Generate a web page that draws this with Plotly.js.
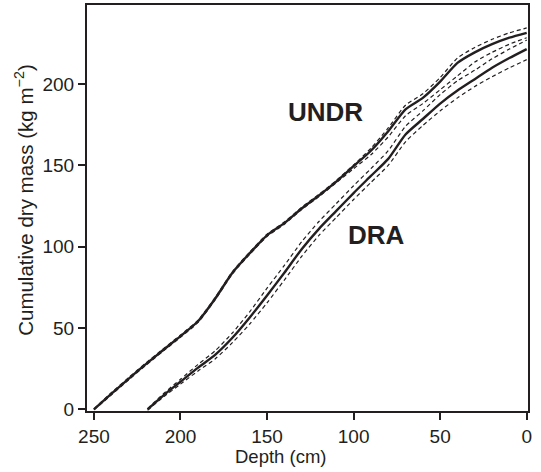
<!DOCTYPE html>
<html>
<head>
<meta charset="utf-8">
<script src="https://cdn.plot.ly/plotly-3.0.1.min.js"></script>
<style>html,body{margin:0;padding:0;background:#fff;}#chart{width:541px;height:472px;}</style>
</head>
<body>
<div id="chart"></div>
<script>
// Depth grids (cm)
const undrDepth = [250,240,230,220,210,200,190,180,170,160,150,140,130,120,110,100,90,80,70,60,50,40,30,20,10,0];
const undrMean  = [0,9.5,18.8,27.8,36.5,45,54,68,84,96,107,114.5,123.5,131.5,140,149.5,159,171,184.5,191.5,201.5,213,219.5,224.5,228.5,231.5];
const undrUpper = [0.3,10.2,19.5,28.5,37.2,45.7,54.7,68.7,84.7,96.7,107.7,115.2,124.2,132.2,140.7,150.3,160.5,173,187,194,204,216,222.5,227.5,231.5,234.5];
const undrLower = [-0.3,8.8,18.1,27.1,35.8,44.3,53.3,67.3,83.3,95.3,106.3,113.8,122.8,130.8,139.3,148,156.5,167.5,180.5,188,196.5,205,213.5,219.5,224.5,228.5];

const draDepth = [219,210,200,190,180,170,160,150,140,130,120,110,100,90,80,70,60,50,40,30,20,10,0];
const draMean  = [0,8.5,17,25.5,33.5,44,56.5,70,84,98.5,111,122,133,143.5,154,169,178.5,188,196,203,210,216,221.5];
const draUpper = [0.5,9.5,18.5,27.5,36,47,60,74.5,88.5,103,115.5,126.5,137.5,148,159,174,183.5,193.5,202,208.5,215.5,221.5,227];
const draLower = [-0.5,7.5,15.5,23.5,31,41,52.5,65.5,79.5,94,107,118,129,139.5,150,164.5,174.5,183.5,191.5,198.5,204.5,210,215];

const xTicks = [250,200,150,100,50,0];
const yTicks = [0,50,100,150,200];
const xTitle = 'Depth (cm)';
const yTitle = 'Cumulative dry mass (kg m<sup>\u22122</sup>)';

const ink = '#231f20';
function solid(x, y){ return {x:x, y:y, type:'scatter', mode:'lines', line:{color:ink, width:2.4, shape:'spline', smoothing:0.6}, hoverinfo:'skip', showlegend:false}; }
function dashed(x, y){ return {x:x, y:y, type:'scatter', mode:'lines', line:{color:ink, width:1.2, dash:'4px,3px', shape:'spline', smoothing:0.6}, hoverinfo:'skip', showlegend:false}; }

const data = [
  dashed(undrDepth, undrUpper), dashed(undrDepth, undrLower),
  dashed(draDepth, draUpper), dashed(draDepth, draLower),
  solid(undrDepth, undrMean), solid(draDepth, draMean)
];

const fam = '"Liberation Sans", Arial, sans-serif';
const layout = {
  width:541, height:472,
  margin:{l:87, r:13, t:5, b:61},
  paper_bgcolor:'#fff', plot_bgcolor:'#fff',
  font:{family:fam, color:ink, size:19},
  showlegend:false,
  xaxis:{
    range:[254.0,-0.75], tickvals:xTicks, ticktext:xTicks.map(String),
    ticks:'outside', ticklen:7, tickwidth:2, tickcolor:ink,
    showline:true, linecolor:ink, linewidth:2, mirror:true,
    showgrid:false, zeroline:false,
    tickfont:{family:fam, size:19, color:ink}
  },
  yaxis:{
    range:[-1.0,248.6], tickvals:yTicks, ticktext:yTicks.map(String),
    ticks:'outside', ticklen:7, tickwidth:2, tickcolor:ink,
    showline:true, linecolor:ink, linewidth:2, mirror:true,
    showgrid:false, zeroline:false,
    tickfont:{family:fam, size:19, color:ink}
  },
  annotations:[
    {x:116, y:183, xref:'x', yref:'y', text:'<b>UNDR</b>', showarrow:false, font:{family:fam, size:26, color:ink}},
    {x:86.5, y:107.5, xref:'x', yref:'y', text:'<b>DRA</b>', showarrow:false, font:{family:fam, size:26, color:ink}},
    {x:0.44, y:-0.113, xref:'paper', yref:'paper', xanchor:'center', yanchor:'middle', text:xTitle, showarrow:false, font:{family:fam, size:18.5, color:ink}},
    {x:-0.143, y:0.52, xref:'paper', yref:'paper', xanchor:'center', yanchor:'middle', textangle:-90, text:yTitle, showarrow:false, font:{family:fam, size:20.5, color:ink}}
  ]
};
Plotly.newPlot('chart', data, layout, {staticPlot:true, displayModeBar:false});
</script>
</body>
</html>
